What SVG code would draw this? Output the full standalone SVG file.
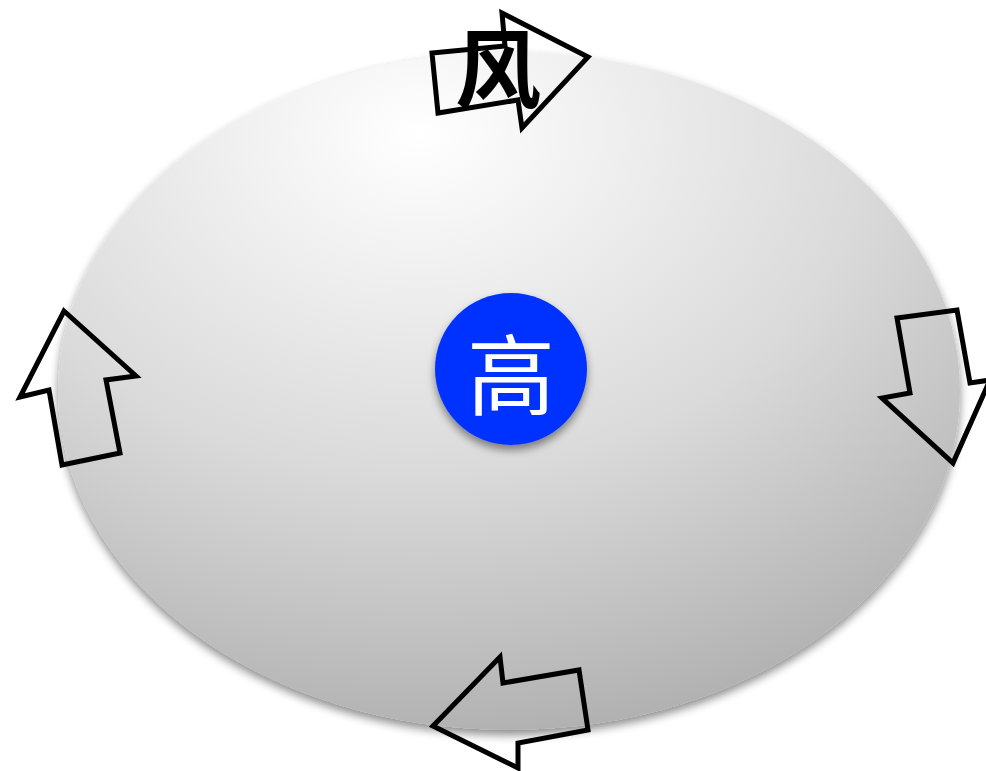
<svg xmlns="http://www.w3.org/2000/svg" width="986" height="771" viewBox="0 0 986 771">
<defs>
<radialGradient id="g" cx="0.4" cy="0.12" r="1.0" fx="0.4" fy="0.12">
<stop offset="0" stop-color="#ffffff"/>
<stop offset="0.5" stop-color="#dadada"/>
<stop offset="1" stop-color="#a6a6a6"/>
</radialGradient>
<filter id="sh" x="-10%" y="-10%" width="120%" height="125%">
<feGaussianBlur in="SourceAlpha" stdDeviation="5"/>
<feOffset dx="0" dy="5" result="b"/>
<feComponentTransfer><feFuncA type="linear" slope="0.45"/></feComponentTransfer>
<feMerge><feMergeNode/><feMergeNode in="SourceGraphic"/></feMerge>
</filter>
<filter id="sh2" x="-20%" y="-20%" width="140%" height="150%">
<feGaussianBlur in="SourceAlpha" stdDeviation="4"/>
<feOffset dx="0" dy="5"/>
<feComponentTransfer><feFuncA type="linear" slope="0.45"/></feComponentTransfer>
<feMerge><feMergeNode/><feMergeNode in="SourceGraphic"/></feMerge>
</filter>
</defs>
<style>
.arr{fill:none;stroke:#000;stroke-width:5;stroke-linejoin:miter}
</style>
<rect width="986" height="771" fill="#fff"/>
<g id="bg">
<ellipse cx="509" cy="391" rx="451" ry="339" fill="url(#g)" filter="url(#sh)"/>
</g>
<g id="connectors">
<path class="arr" d="M438,113 L432,53 L505,46 L502,13 L588,57 L522,128 L518,100 Z"/>
<path class="arr" d="M64,311 L136,376 L106,380 L120,453 L62,465 L49,390 L20,397 Z"/>
<path class="arr" d="M897,318 L957,310 L970,383 L990,380 L953,463 L882,398 L910,393 Z"/>
<path class="arr" d="M433,726 L500,657 L503,683 L579,670 L588,730 L518,743 L518,768 Z"/>
</g>
<g id="wind">
<text x="498" y="102" font-family="Noto Sans CJK SC, sans-serif" font-weight="bold" font-size="86" text-anchor="middle" fill="#000">风</text>
</g>
<g id="high">
<circle cx="511" cy="369" r="76" fill="#0433ff" filter="url(#sh2)"/>
<text x="511" y="408" font-family="Noto Sans CJK SC, sans-serif" font-size="88" text-anchor="middle" fill="#fff">高</text>
</g>
</svg>
